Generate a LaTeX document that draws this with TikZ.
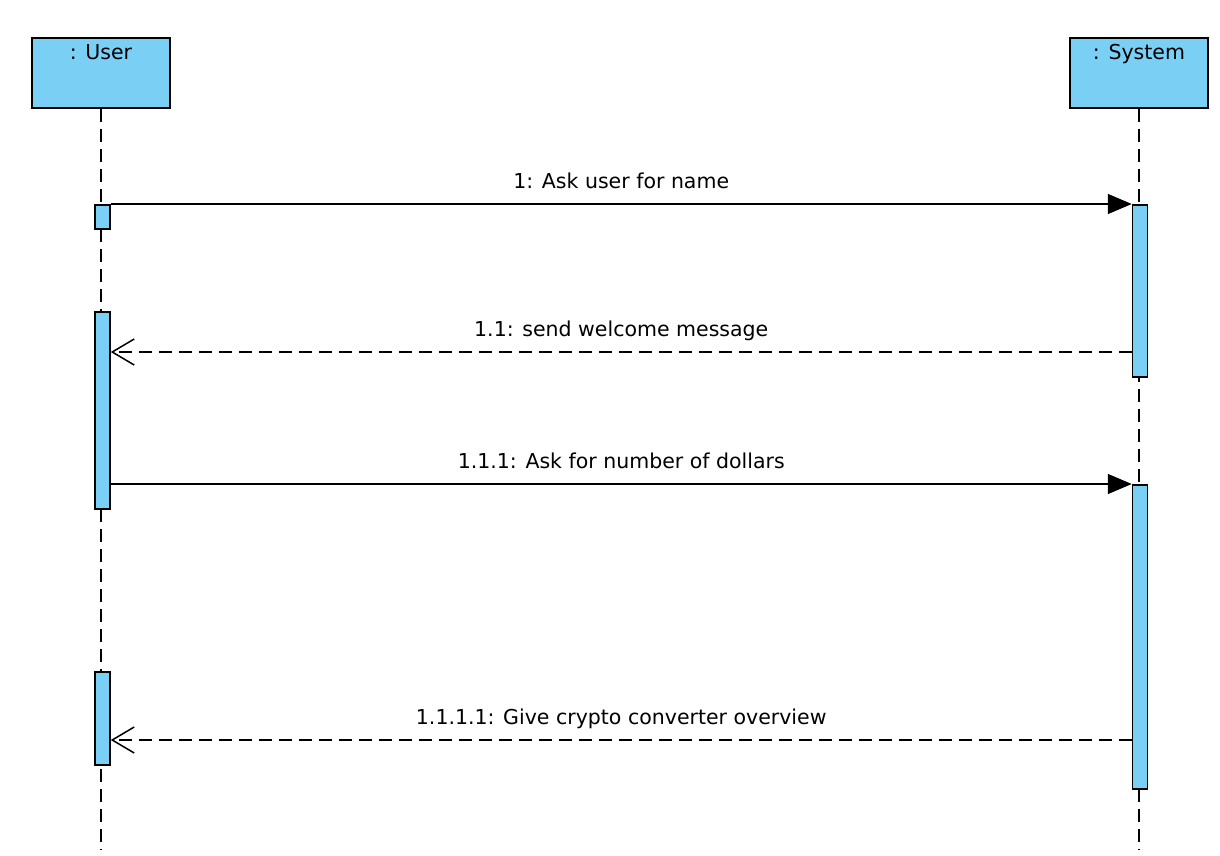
\documentclass[tikz,border=0pt]{standalone}
\usepackage{fontspec}
\setmainfont{DejaVu Sans}
\usetikzlibrary{arrows.meta}
\definecolor{umlblue}{HTML}{7ACFF5}

\begin{document}
\begin{tikzpicture}[x=1pt, y=-1pt, line width=1.5pt,
    lifebox/.style={draw, fill=umlblue, minimum width=138pt, minimum height=70pt, inner sep=0pt},
    lifeline/.style={draw, line width=1.3pt, dash pattern=on 13pt off 7pt},
    activation/.style={draw, fill=umlblue, minimum width=15pt, inner sep=0pt},
    call/.style={draw, -{Triangle[length=24pt, width=20pt]}},
    reply/.style={draw, dash pattern=on 13pt off 7pt, -{Straight Barb[length=22pt, width=26pt, line width=1.5pt]}},
    msg/.style={font=\fontsize{20.5}{24}\selectfont, inner sep=0pt}]
  \useasboundingbox (0,0) rectangle (1220,856);

  % lifelines
  \node[lifebox] (user) at (101,73) {};
  \node[lifebox] (system) at (1139,73) {};
  \node[msg, anchor=base] (userlbl) at (101,60) {: User};
  \node[msg, anchor=base] (systemlbl) at (1139,60) {: System};
  \coordinate (userend) at (101,850);
  \coordinate (systemend) at (1139,850);
  \path[lifeline] (user.south) -- (userend);
  \path[lifeline] (system.south) -- (systemend);

  % activation bars
  \node[activation, minimum height=24pt, anchor=north] (ua1) at (102.5,204) {};
  \node[activation, minimum height=197pt, anchor=north] (ua2) at (102.5,311) {};
  \node[activation, minimum height=93pt, anchor=north] (ua3) at (102.5,671) {};
  \node[activation, minimum height=172pt, anchor=north] (sa1) at (1140,204) {};
  \node[activation, minimum height=304pt, anchor=north] (sa2) at (1140,484) {};

  % messages
  \coordinate (m2) at (0,352);
  \coordinate (m4) at (0,740);
  \path[call] (ua1.north east) -- (sa1.north west) node[msg, midway, anchor=base, yshift=16pt] (l1) {1: Ask user for name};
  \path[reply] (sa1.west |- m2) -- (ua2.east |- m2) node[msg, midway, anchor=base, yshift=16pt] (l2) {1.1: send welcome message};
  \path[call] (ua2.east |- sa2.north) -- (sa2.north west) node[msg, midway, anchor=base, yshift=16pt] (l3) {1.1.1: Ask for number of dollars};
  \path[reply] (sa2.west |- m4) -- (ua3.east |- m4) node[msg, midway, anchor=base, yshift=16pt] (l4) {1.1.1.1: Give crypto converter overview};
\end{tikzpicture}
\end{document}
